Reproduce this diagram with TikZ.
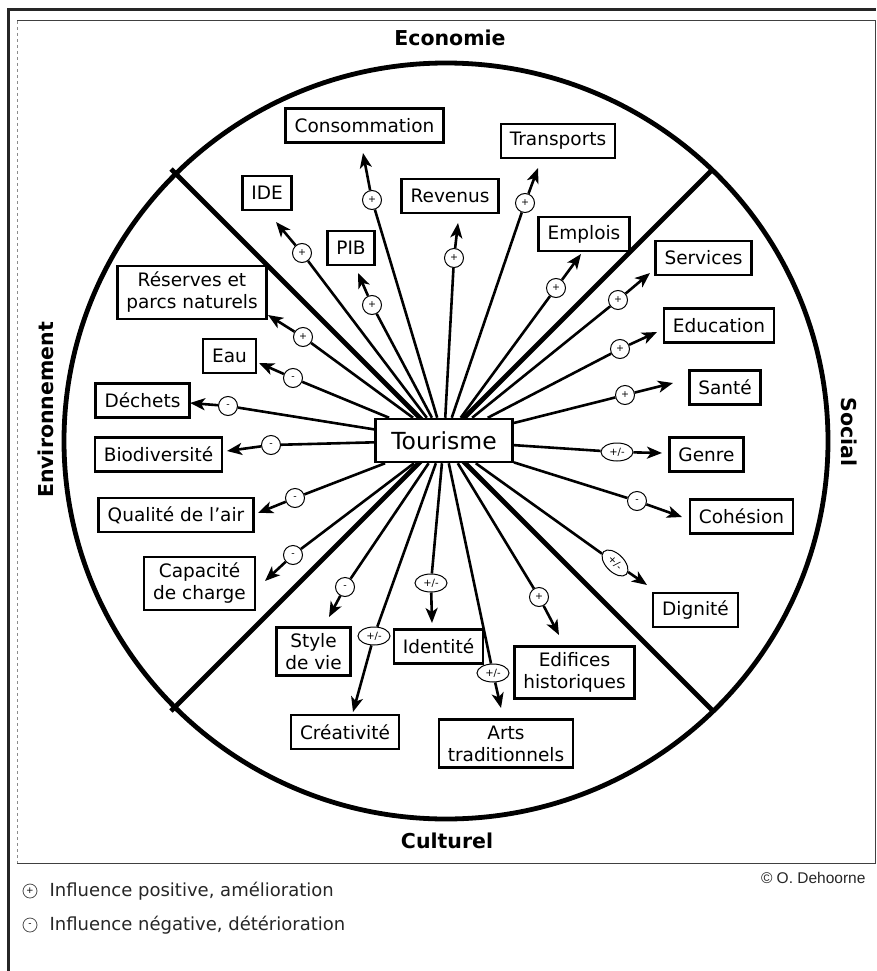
\documentclass[tikz,border=0pt]{standalone}
\usepackage{fontspec}
\setmainfont{DejaVu Sans}
\newfontfamily\legendfont{Liberation Sans}
\usetikzlibrary{arrows.meta,shapes.geometric}

\tikzset{
  box/.style={draw, line width=2.5pt, fill=white, inner xsep=9pt, inner ysep=6pt,
    minimum height=34pt, align=center, font=\fontsize{18.5}{22}\selectfont},
  sign/.style={draw, circle, line width=1pt, fill=white, inner sep=0pt,
    minimum size=19pt, font=\fontsize{9.5}{9.5}\selectfont},
  mixed/.style={draw, ellipse, line width=1pt, fill=white, inner sep=0pt,
    minimum width=32pt, minimum height=18pt, font=\fontsize{10}{10}\selectfont},
  link/.style={line width=2.6pt},
  arr/.style={line width=2.6pt, -{Stealth[length=15pt,width=12pt,inset=4pt]}},
  theme/.style={font=\fontsize{20.5}{20.5}\bfseries\selectfont},
  divide/.style={line width=4.8pt},
  legsign/.style={draw=black!70, circle, line width=0.8pt, inner sep=0pt,
    minimum size=14pt, font=\fontsize{9}{9}\selectfont},
  legtext/.style={anchor=west, text=black!85, font=\fontsize{18}{20}\selectfont},
}

\begin{document}
\begin{tikzpicture}[x=1pt, y=-1pt]
  \useasboundingbox (0,0) rectangle (876,971);
  \fill[white] (0,0) rectangle (876,971);
  % frames
  \draw[line width=3pt, black!85] (8,971) -- (8,10) -- (876,10);
  \draw[line width=1pt, black!75] (17,21) -- (875,21) -- (875,863) -- (17,863);
  \draw[line width=1pt, black!45, dashed] (17,21) -- (17,863);

  % wheel
  \coordinate (o) at (442,440);
  \coordinate (ul) at (171,169);
  \coordinate (ur) at (713,169);
  \coordinate (ll) at (171,711);
  \coordinate (lr) at (713,711);
  \draw[divide] (446,441) ellipse [x radius=382, y radius=378];
  \draw[divide] (ul) -- (o);
  \draw[divide] (ur) -- (o);
  \draw[divide] (ll) -- (o);
  \draw[divide] (lr) -- (o);

  \node[theme] (eco) at (450,38) {Economie};
  \node[theme, rotate=-90] (soc) at (849,432) {Social};
  \node[theme] (cult) at (447,841) {Culturel};
  \node[theme, rotate=90] (env) at (46,410) {Environnement};

  \node[box, inner xsep=16pt, minimum height=43pt, font=\fontsize{23.5}{27}\selectfont] (tour) at (444,440.5) {Tourisme};

  % Economie
  \node[box] (ide) at (267,193) {IDE};
  \node[box] (conso) at (364.5,125.5) {Consommation};
  \node[box] (pib) at (351,248) {PIB};
  \node[box] (revenus) at (450,196) {Revenus};
  \node[box] (transp) at (558,141) {Transports};
  \node[box] (emplois) at (584,234) {Emplois};
  % Social
  \node[box] (services) at (703.5,258) {Services};
  \node[box] (educ) at (719,325.5) {Education};
  \node[box] (sante) at (725,387.5) {Santé};
  \node[box] (genre) at (706.5,454.5) {Genre};
  \node[box] (cohesion) at (741.5,516.5) {Cohésion};
  \node[box] (dignite) at (695.5,610) {Dignité};
  % Culturel
  \node[box] (edifices) at (574.5,672.5) {Edifices\\historiques};
  \node[box] (arts) at (506,743.5) {Arts\\traditionnels};
  \node[box] (identite) at (438.5,646.5) {Identité};
  \node[box] (creat) at (345,732) {Créativité};
  \node[box] (style) at (313.5,651.5) {Style\\de vie};
  % Environnement
  \node[box] (capacite) at (199.5,583.5) {Capacité\\de charge};
  \node[box] (air) at (176,515) {Qualité de l'air};
  \node[box] (biodiv) at (158.5,454.5) {Biodiversité};
  \node[box] (dechets) at (142.5,400.5) {Déchets};
  \node[box] (eau) at (229.5,356) {Eau};
  \node[box] (reserves) at (192,292.5) {Réserves et\\parcs naturels};

  % signs
  \node[sign] (s-ide) at (302,253) {+};
  \node[sign] (s-conso) at (372,200) {+};
  \node[sign] (s-pib) at (372,305) {+};
  \node[sign] (s-revenus) at (454,258) {+};
  \node[sign] (s-transp) at (525,203) {+};
  \node[sign] (s-emplois) at (556,288) {+};
  \node[sign] (s-services) at (618,300) {+};
  \node[sign] (s-educ) at (620,349) {+};
  \node[sign] (s-sante) at (625,395) {+};
  \node[mixed] (s-genre) at (617,452) {+/-};
  \node[sign] (s-cohesion) at (637,501) {-};
  \node[mixed, rotate=-45] (s-dignite) at (615,563) {+/-};
  \node[sign] (s-edifices) at (539,597) {+};
  \node[mixed] (s-arts) at (493,673) {+/-};
  \node[mixed] (s-identite) at (431,583) {+/-};
  \node[mixed] (s-creat) at (374,636) {+/-};
  \node[sign] (s-style) at (345,587) {-};
  \node[sign] (s-capacite) at (293,555) {-};
  \node[sign] (s-air) at (295,498) {-};
  \node[sign] (s-biodiv) at (271,445) {-};
  \node[sign] (s-dechets) at (228,406) {-};
  \node[sign] (s-eau) at (293,378) {-};
  \node[sign] (s-reserves) at (303,337) {+};

  % arrow tips
  \coordinate (t-ide) at (276,222);
  \coordinate (t-conso) at (363,153);
  \coordinate (t-pib) at (358,273);
  \coordinate (t-revenus) at (458,223);
  \coordinate (t-transp) at (538,168);
  \coordinate (t-emplois) at (581,254);
  \coordinate (t-services) at (650,273);
  \coordinate (t-educ) at (657,332);
  \coordinate (t-sante) at (673,383);
  \coordinate (t-genre) at (662,453);
  \coordinate (t-cohesion) at (682,517);
  \coordinate (t-dignite) at (647,585);
  \coordinate (t-edifices) at (559,635);
  \coordinate (t-arts) at (501,708);
  \coordinate (t-identite) at (432,623);
  \coordinate (t-creat) at (353,712);
  \coordinate (t-style) at (329,617);
  \coordinate (t-capacite) at (265,581);
  \coordinate (t-air) at (258,513);
  \coordinate (t-biodiv) at (227,451);
  \coordinate (t-dechets) at (190,403);
  \coordinate (t-eau) at (259,363);
  \coordinate (t-reserves) at (268,315);

  \draw[link] (tour) -- (s-ide);       \draw[arr] (s-ide) -- (t-ide);
  \draw[link] (tour) -- (s-conso);     \draw[arr] (s-conso) -- (t-conso);
  \draw[link] (tour) -- (s-pib);       \draw[arr] (s-pib) -- (t-pib);
  \draw[link] (tour) -- (s-revenus);   \draw[arr] (s-revenus) -- (t-revenus);
  \draw[link] (tour) -- (s-transp);    \draw[arr] (s-transp) -- (t-transp);
  \draw[link] (tour) -- (s-emplois);   \draw[arr] (s-emplois) -- (t-emplois);
  \draw[link] (tour) -- (s-services);  \draw[arr] (s-services) -- (t-services);
  \draw[link] (tour) -- (s-educ);      \draw[arr] (s-educ) -- (t-educ);
  \draw[link] (tour) -- (s-sante);     \draw[arr] (s-sante) -- (t-sante);
  \draw[link] (tour) -- (s-genre);     \draw[arr] (s-genre) -- (t-genre);
  \draw[link] (tour) -- (s-cohesion);  \draw[arr] (s-cohesion) -- (t-cohesion);
  \draw[link] (tour) -- (s-dignite);   \draw[arr] (s-dignite) -- (t-dignite);
  \draw[link] (tour) -- (s-edifices);  \draw[arr] (s-edifices) -- (t-edifices);
  \draw[link] (tour) -- (s-arts);      \draw[arr] (s-arts) -- (t-arts);
  \draw[link] (tour) -- (s-identite);  \draw[arr] (s-identite) -- (t-identite);
  \draw[link] (tour) -- (s-creat);     \draw[arr] (s-creat) -- (t-creat);
  \draw[link] (tour) -- (s-style);     \draw[arr] (s-style) -- (t-style);
  \draw[link] (tour) -- (s-capacite);  \draw[arr] (s-capacite) -- (t-capacite);
  \draw[link] (tour) -- (s-air);       \draw[arr] (s-air) -- (t-air);
  \draw[link] (tour) -- (s-biodiv);    \draw[arr] (s-biodiv) -- (t-biodiv);
  \draw[link] (tour) -- (s-dechets);   \draw[arr] (s-dechets) -- (t-dechets);
  \draw[link] (tour) -- (s-eau);       \draw[arr] (s-eau) -- (t-eau);
  \draw[link] (tour) -- (s-reserves);  \draw[arr] (s-reserves) -- (t-reserves);

  % legend
  \node[legsign] (lp) at (30,891) {+};
  \node[legtext] (lptext) at (46,891) {Influence positive, amélioration};
  \node[legsign] (ln) at (30,925) {-};
  \node[legtext] (lntext) at (46,925) {Influence négative, détérioration};
  \node[anchor=east, text=black!85, font=\legendfont\fontsize{15.5}{16}\selectfont] (credit) at (869,878) {© O. Dehoorne};
\end{tikzpicture}
\end{document}
